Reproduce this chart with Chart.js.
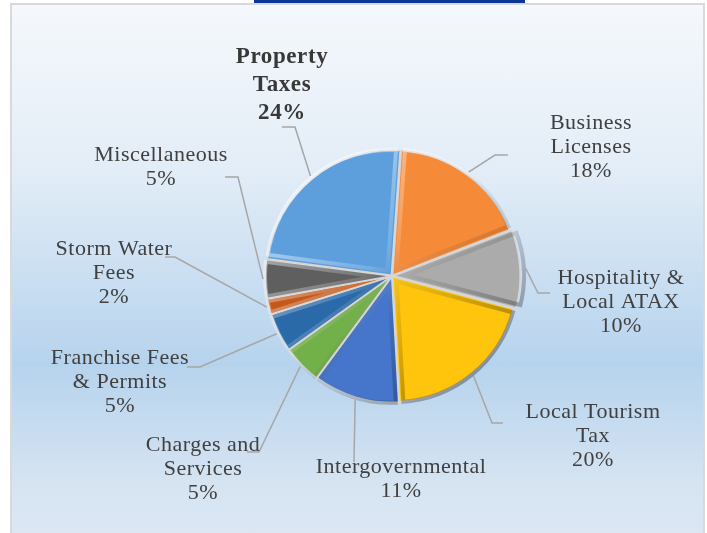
<!DOCTYPE html>
<html>
<head>
<meta charset="utf-8">
<script src="https://cdn.jsdelivr.net/npm/chart.js@4.4.0/dist/chart.umd.min.js"></script>
<style>
  html, body { margin: 0; padding: 0; width: 707px; height: 533px; overflow: hidden; background: #ffffff; }
  #frame {
    position: absolute; left: 10px; top: 3px; width: 691px; height: 545px;
    border: 2px solid #d9d9d9;
    background: linear-gradient(to bottom, #f5f8fc 0%, #e3edf7 30%, #b6d3ed 66%, #d6e4f2 88%, #dde7f3 100%);
  }
  #topbar { position: absolute; left: 254px; top: 0; width: 271px; height: 3px; background: #0b3596; }
  #wrap { position: absolute; left: 0; top: 0; width: 707px; height: 533px; }
</style>
</head>
<body>
<div id="frame"></div>
<div id="topbar"></div>
<div id="wrap"><canvas id="revenuePie" width="707" height="533"></canvas></div>
<script>
// revenue sources, clockwise from 12 o'clock
const categories = [
  "Business\nLicenses",
  "Hospitality &\nLocal ATAX",
  "Local Tourism\nTax",
  "Intergovernmental",
  "Charges and\nServices",
  "Franchise Fees\n& Permits",
  "Storm Water\nFees",
  "Miscellaneous",
  "Property\nTaxes",
];
const shares = [18, 10, 20, 11, 5, 5, 2, 5, 24];

const sliceColors = ["#f58a39", "#ababab", "#ffc50c", "#4676cc", "#72b04a", "#2b6aa8", "#c4591b", "#5f5f5f", "#5d9fdd"];
const sliceOffsets = [4, 9, 4, 4, 4, 4, 4, 4, 4];

// label layout: first-line centre, leader elbow, leader end x
const labelCenters = [[591, 123], [621, 278], [593, 412], [401, 467], [203, 445], [120, 358], [114, 249], [161, 155], [282, 57]];
const leaderElbows = [[495, 155], [538, 293], [492, 423], [354, 462], [259, 452], [200, 367], [175, 257], [238, 177], [295, 127]];
const leaderEnds = [508, 550, 503, 354, 247, 187, 165, 225, 282];
const boldLabels = [8];

const bevelPlugin = {
  id: "bevel",
  afterDatasetsDraw(chart) {
    const ctx = chart.ctx;
    const meta = chart.getDatasetMeta(0);
    meta.data.forEach((arc, i) => {
      const { x, y, startAngle, endAngle, outerRadius } = arc.getProps(
        ["x", "y", "startAngle", "endAngle", "outerRadius"],
        true
      );
      const mid = (startAngle + endAngle) / 2;
      const cx = x + Math.cos(mid) * sliceOffsets[i];
      const cy = y + Math.sin(mid) * sliceOffsets[i];
      ctx.save();
      ctx.beginPath();
      ctx.moveTo(cx, cy);
      ctx.arc(cx, cy, outerRadius, startAngle, endAngle);
      ctx.closePath();
      ctx.clip();
      const g = ctx.createLinearGradient(cx - outerRadius, cy - outerRadius, cx + outerRadius, cy + outerRadius);
      g.addColorStop(0, "rgba(255,255,255,0.7)");
      g.addColorStop(0.45, "rgba(255,255,255,0.15)");
      g.addColorStop(0.6, "rgba(0,0,0,0.1)");
      g.addColorStop(1, "rgba(0,0,0,0.45)");
      ctx.lineJoin = "round";
      ctx.lineWidth = 8;
      ctx.strokeStyle = g;
      ctx.stroke();
      ctx.restore();
    });
  },
};

const labelPlugin = {
  id: "leaderLabels",
  afterDraw(chart) {
    const ctx = chart.ctx;
    const meta = chart.getDatasetMeta(0);
    const total = shares.reduce((a, b) => a + b, 0);
    meta.data.forEach((arc, i) => {
      const { x, y, startAngle, endAngle, outerRadius } = arc.getProps(
        ["x", "y", "startAngle", "endAngle", "outerRadius"],
        true
      );
      const mid = (startAngle + endAngle) / 2;
      const r = outerRadius + sliceOffsets[i];
      const ax = x + Math.cos(mid) * r;
      const ay = y + Math.sin(mid) * r;

      ctx.save();
      ctx.strokeStyle = "#a6a6a6";
      ctx.lineWidth = 1.5;
      ctx.beginPath();
      ctx.moveTo(ax, ay);
      ctx.lineTo(leaderElbows[i][0], leaderElbows[i][1]);
      ctx.lineTo(leaderEnds[i], leaderElbows[i][1]);
      ctx.stroke();

      const bold = boldLabels.includes(i);
      const lines = categories[i].split("\n");
      lines.push(Math.round((shares[i] / total) * 100) + "%");
      ctx.font = (bold ? "bold 23px" : "22px") + " 'Liberation Serif', 'Times New Roman', serif";
      ctx.letterSpacing = bold ? "0.6px" : "0.5px";
      ctx.fillStyle = bold ? "#383838" : "#404040";
      ctx.textAlign = "center";
      ctx.textBaseline = "middle";
      const lh = bold ? 28 : 24;
      lines.forEach((t, k) => {
        ctx.fillText(t, labelCenters[i][0], labelCenters[i][1] + k * lh);
      });
      ctx.restore();
    });
  },
};

new Chart(document.getElementById("revenuePie"), {
  type: "pie",
  data: {
    labels: categories,
    datasets: [
      {
        data: shares,
        backgroundColor: sliceColors,
        borderColor: "#d6d6d6",
        borderWidth: 1.5,
        offset: sliceOffsets,
      },
    ],
  },
  options: {
    responsive: false,
    animation: false,
    rotation: 4,
    radius: 125,
    layout: { padding: { left: 77, top: 19, right: 0, bottom: 0 } },
    plugins: {
      legend: { display: false },
      tooltip: { enabled: false },
    },
  },
  plugins: [bevelPlugin, labelPlugin],
});
</script>
</body>
</html>
